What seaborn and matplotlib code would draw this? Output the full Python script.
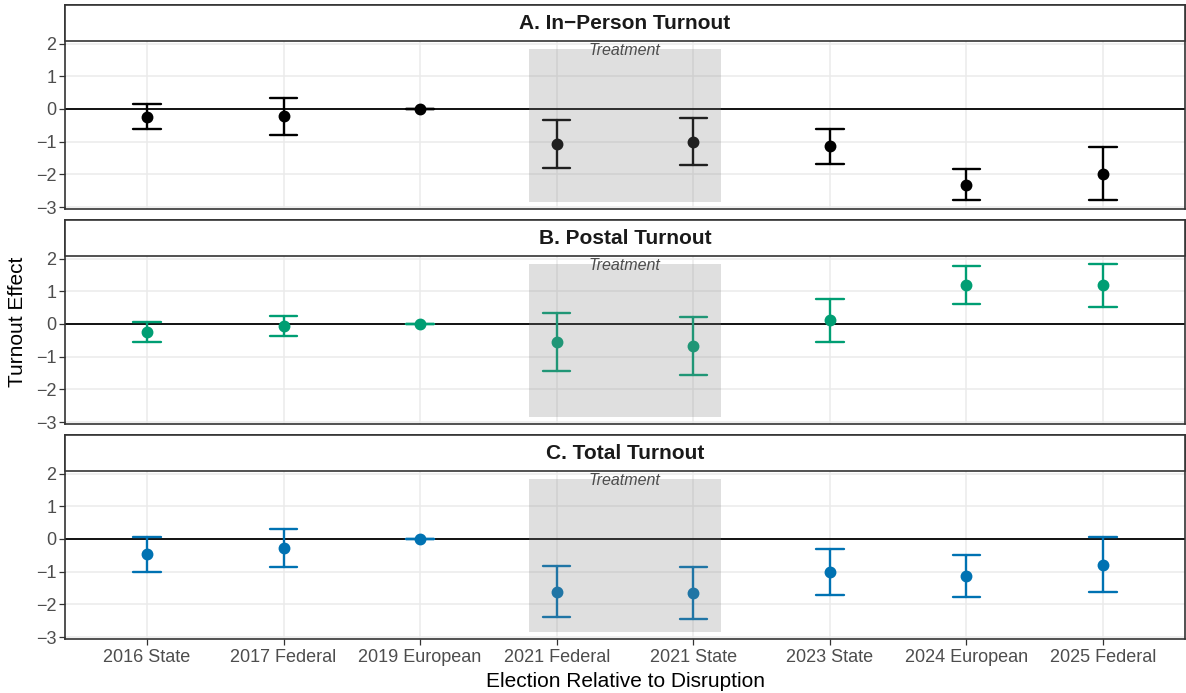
import numpy as np
import pandas as pd
import matplotlib
matplotlib.use("Agg")
import matplotlib.pyplot as plt
import matplotlib.transforms as mtransforms
from matplotlib.patches import Rectangle
import seaborn as sns

# ---------------- data ----------------
elections = ["2016 State", "2017 Federal", "2019 European", "2021 Federal",
             "2021 State", "2023 State", "2024 European", "2025 Federal"]

panel_titles = ["A. In\u2212Person Turnout", "B. Postal Turnout", "C. Total Turnout"]
panel_colors = ["#000000", "#009E73", "#0072B2"]

inperson_est = [-0.24, -0.23, 0.0, -1.07, -1.01, -1.14, -2.32, -1.98]
inperson_lo = [-0.62, -0.80, 0.0, -1.80, -1.72, -1.69, -2.79, -2.79]
inperson_hi = [0.15, 0.33, 0.0, -0.34, -0.27, -0.60, -1.83, -1.17]

postal_est = [-0.25, -0.07, 0.0, -0.56, -0.68, 0.13, 1.19, 1.18]
postal_lo = [-0.54, -0.36, 0.0, -1.44, -1.57, -0.54, 0.60, 0.52]
postal_hi = [0.06, 0.25, 0.0, 0.34, 0.22, 0.76, 1.77, 1.84]

total_est = [-0.47, -0.29, 0.0, -1.62, -1.66, -1.02, -1.12, -0.79]
total_lo = [-1.00, -0.87, 0.0, -2.38, -2.45, -1.71, -1.77, -1.62]
total_hi = [0.07, 0.31, 0.0, -0.84, -0.87, -0.31, -0.49, 0.05]

series = [(inperson_est, inperson_lo, inperson_hi),
          (postal_est, postal_lo, postal_hi),
          (total_est, total_lo, total_hi)]

treat_label = "Treatment"
treat_x = ("2021 Federal", "2021 State")
treat_y = (-2.84, 1.84)

# ---------------- style ----------------
sns.set_theme(style="white")
plt.rcParams["font.family"] = ["Liberation Sans", "DejaVu Sans"]
plt.rcParams["axes.unicode_minus"] = True

fig = plt.figure(figsize=(11.86, 6.93), dpi=100)
axes = fig.subplots(3, 1, sharex=True)
fig.subplots_adjust(left=65 / 1186, right=1185 / 1186, bottom=1 - 639 / 693,
                    top=1 - 5 / 693, hspace=0.054)

ylo, yhi = -3.06, 3.18
strip_bottom = 2.07

for i, ax in enumerate(axes):
    est, lo, hi = series[i]
    rows = []
    for e, a, b, c in zip(elections, lo, est, hi):
        for v in (a, b, c):
            rows.append({"election": e, "value": v})
    df = pd.DataFrame(rows)

    ax.axhline(0, color="black", lw=1.3, zorder=1.5)
    sns.pointplot(data=df, x="election", y="value", order=elections,
                  estimator="median", errorbar=("pi", 100),
                  color=panel_colors[i], capsize=0.2, linestyle="none",
                  marker="o", markersize=6.5, err_kws={"linewidth": 1.7},
                  ax=ax)

    ax.set_xlim(-0.6, len(elections) - 0.4)
    ax.set_ylim(ylo, yhi)
    ax.set_yticks([-3, -2, -1, 0, 1, 2])
    ax.grid(True, color="#EBEBEB", lw=1.1)
    ax.set_axisbelow(True)
    for s in ax.spines.values():
        s.set_color("#333333")
        s.set_linewidth(1.2)
    ax.set_xlabel("")
    ax.set_ylabel("")
    ax.tick_params(axis="y", labelsize=13, labelcolor="#4D4D4D",
                   color="#333333", length=4.3, width=0.9, left=True, pad=2)

    # treatment shading
    x0 = elections.index(treat_x[0]) - 0.2
    x1 = elections.index(treat_x[1]) + 0.2
    ax.add_patch(Rectangle((x0, treat_y[0]), x1 - x0, treat_y[1] - treat_y[0],
                           facecolor="#808080", alpha=0.25, lw=0, zorder=3))
    ax.text((x0 + x1) / 2, treat_y[1], treat_label, ha="center",
            va="center_baseline", fontsize=11.5, style="italic",
            color="#4D4D4D", zorder=4)

    # strip
    trans = mtransforms.blended_transform_factory(ax.transAxes, ax.transData)
    ax.add_patch(Rectangle((0, strip_bottom), 1, yhi - strip_bottom,
                           transform=trans, facecolor="white",
                           edgecolor="#333333", lw=1.2, zorder=5, clip_on=False))
    ax.text(0.5, (strip_bottom + yhi) / 2, panel_titles[i], transform=trans,
            ha="center", va="center", fontsize=15, fontweight="bold",
            color="#1A1A1A", zorder=6)

    if i < 2:
        ax.tick_params(axis="x", length=0, labelbottom=False)
    else:
        ax.tick_params(axis="x", labelsize=13, labelcolor="#4D4D4D",
                       color="#333333", length=4.3, width=0.9, bottom=True, pad=3)
        ax.set_xlabel("Election Relative to Disruption", fontsize=15,
                      color="black", labelpad=4.5)

fig.text(18 / 1186, 1 - 322 / 693, "Turnout Effect", rotation=90,
         ha="center", va="center", fontsize=15, color="black")

fig.savefig("out.png", dpi=100)
